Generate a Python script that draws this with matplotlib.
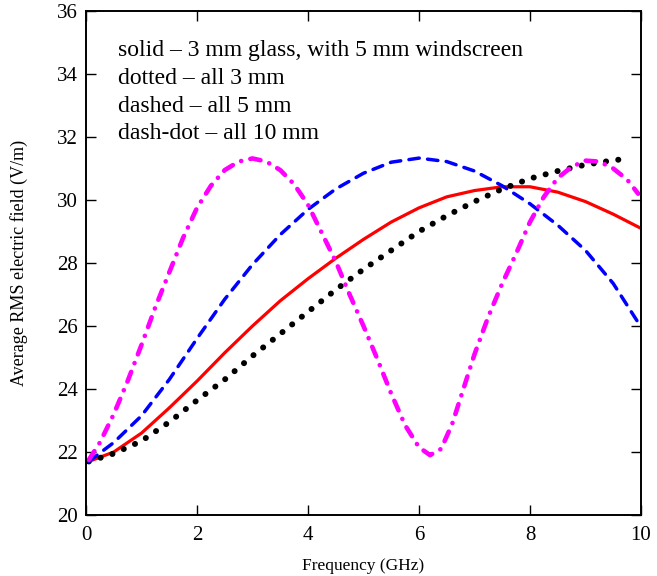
import numpy as np
import matplotlib
matplotlib.use('Agg')
import matplotlib.pyplot as plt

plt.rcParams['font.family'] = ['Liberation Serif', 'DejaVu Serif']
plt.rcParams['lines.scale_dashes'] = False

# solid - 3 mm glass, with 5 mm windscreen
f_solid = [0.05, 0.5, 1, 1.5, 2, 2.5, 3, 3.5, 4, 4.5, 5, 5.5, 6, 6.5, 7, 7.5, 8, 8.5, 9, 9.5, 10]
e_solid = [21.7, 22.0, 22.6, 23.4, 24.25, 25.15, 26.0, 26.8, 27.5, 28.15, 28.75, 29.3, 29.75,
           30.1, 30.3, 30.42, 30.42, 30.25, 29.95, 29.55, 29.1]

# dotted - all 3 mm
f_dot = [0.05, 0.5, 1, 1.5, 2, 2.5, 3, 3.5, 4, 4.5, 5, 5.5, 6, 6.5, 7, 7.5, 8, 8.5, 9, 9.5, 9.8]
e_dot = [21.7, 21.95, 22.35, 22.95, 23.64, 24.3, 25.05, 25.75, 26.45, 27.15, 27.8, 28.4, 29.0,
         29.5, 29.95, 30.35, 30.68, 30.92, 31.12, 31.26, 31.32]

# dashed - all 5 mm
f_dash = [0.05, 0.5, 1, 1.5, 2, 2.5, 3, 3.5, 4, 4.5, 5, 5.5, 6, 6.5, 7, 7.5, 8, 8.5, 9, 9.5, 10]
e_dash = [21.7, 22.3, 23.15, 24.3, 25.6, 26.85, 27.95, 28.9, 29.7, 30.35, 30.85, 31.2, 31.33,
          31.22, 30.92, 30.45, 29.88, 29.2, 28.4, 27.35, 25.97]

# dash-dot - all 10 mm
f_dd = [0.05, 0.25, 0.5, 0.75, 1, 1.25, 1.5, 1.75, 2, 2.25, 2.5, 2.75, 3, 3.25, 3.5, 3.75, 4,
        4.25, 4.5, 4.75, 5, 5.25, 5.5, 5.75, 6, 6.2, 6.4, 6.6, 6.8, 7, 7.25, 7.5, 7.75, 8,
        8.25, 8.5, 8.75, 9, 9.25, 9.5, 9.75, 9.95]
e_dd = [21.75, 22.3, 23.2, 24.25, 25.4, 26.6, 27.7, 28.8, 29.75, 30.45, 30.95, 31.22, 31.32,
        31.22, 30.95, 30.5, 29.85, 28.95, 28.05, 27.0, 26.0, 24.95, 23.85, 22.85, 22.15, 21.9,
        22.1, 22.9, 24.0, 25.1, 26.3, 27.35, 28.3, 29.3, 30.1, 30.7, 31.05, 31.25, 31.22,
        31.0, 30.65, 30.2]

notes = ['solid \u2013 3 mm glass, with 5 mm windscreen',
         'dotted \u2013 all 3 mm',
         'dashed \u2013 all 5 mm',
         'dash-dot \u2013 all 10 mm']

fig = plt.figure(figsize=(6.57, 5.76), dpi=100)
ax = fig.add_axes([0.1309, 0.1059, 0.8447, 0.875])

ax.plot(f_solid, e_solid, color='#ff0000', lw=2.3, solid_capstyle='round', solid_joinstyle='round')
ax.plot(f_dot, e_dot, color='black', lw=4.3, dashes=(0.1, 8.8), dash_capstyle='round')
ax.plot(f_dash, e_dash, color='#0000ff', lw=2.5, dashes=(7.5, 6), dash_capstyle='round')
ax.plot(f_dd, e_dd, color='#ff00ff', lw=3.3, dashes=(7.5, 6.7, 0.1, 6.7), dash_capstyle='round')

ax.set_xlim(0, 10)
ax.set_ylim(20, 36)
ax.set_xticks(range(0, 11, 2))
ax.set_yticks(range(20, 37, 2))
ax.tick_params(direction='in', length=7, width=1, top=True, right=True, labelsize=15)
ax.tick_params(axis='x', pad=8)
ax.tick_params(axis='y', pad=6)
for s in ax.spines.values():
    s.set_linewidth(1.4)

ys = [0.911, 0.855, 0.800, 0.746]
for t, y in zip(notes, ys):
    ax.text(0.058, y, t, transform=ax.transAxes, fontsize=17, va='baseline', ha='left')

ax.set_xlabel('Frequency (GHz)', fontsize=12.5)
ax.set_ylabel('Average RMS electric field (V/m)', fontsize=13)
ax.xaxis.set_label_coords(0.5, -0.086)
ax.yaxis.set_label_coords(-0.104, 0.5)

fig.savefig('out.png', dpi=100)
